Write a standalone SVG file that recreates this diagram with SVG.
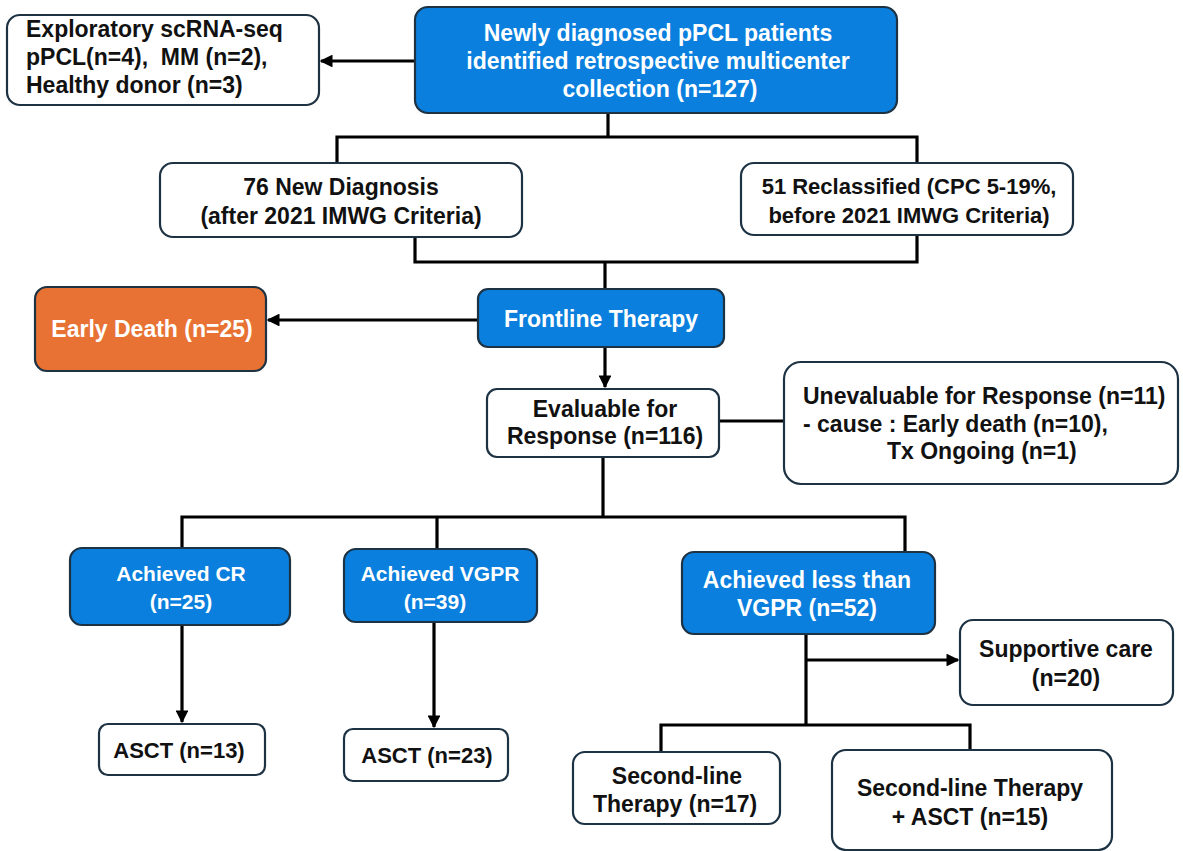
<svg xmlns="http://www.w3.org/2000/svg" width="1183" height="851" viewBox="0 0 1183 851">
<defs>
<style>
.box{stroke:#1d3243;stroke-width:2.2}
.w{fill:#ffffff}
.b{fill:#0a7fdd}
.o{fill:#e87234}
text{font-family:"Liberation Sans",Arial,sans-serif;font-weight:bold;font-size:23px;fill:#111}
.wt{fill:#ffffff}
.c{text-anchor:middle}
.s{font-size:21px}
.m{font-size:22px}
.conn{stroke:#000;stroke-width:3.2;fill:none}
</style>
<marker id="ah" viewBox="0 0 10 10" refX="9" refY="5" markerWidth="4" markerHeight="4" orient="auto" markerUnits="strokeWidth">
<path d="M0,0 L10,5 L0,10 z" fill="#000"/>
</marker>
</defs>
<rect width="1183" height="851" fill="#ffffff"/>

<g id="connectors">
<line class="conn" x1="415" y1="61" x2="321" y2="61" marker-end="url(#ah)"/>
<polyline class="conn" points="608,113 608,137"/>
<polyline class="conn" points="337,163 337,137 917,137 917,163"/>
<polyline class="conn" points="415,237 415,262 917,262 917,235"/>
<polyline class="conn" points="605,262 605,289"/>
<line class="conn" x1="478" y1="320" x2="268" y2="320" marker-end="url(#ah)"/>
<line class="conn" x1="605" y1="347" x2="605" y2="387" marker-end="url(#ah)"/>
<line class="conn" x1="720" y1="421" x2="784" y2="421"/>
<polyline class="conn" points="603,457 603,517"/>
<polyline class="conn" points="182,548 182,517 905,517 905,552"/>
<polyline class="conn" points="437,517 437,549"/>
<line class="conn" x1="182" y1="625" x2="182" y2="722" marker-end="url(#ah)"/>
<line class="conn" x1="434" y1="622" x2="434" y2="727" marker-end="url(#ah)"/>
<polyline class="conn" points="806,634 806,725"/>
<line class="conn" x1="806" y1="660" x2="958" y2="660" marker-end="url(#ah)"/>
<polyline class="conn" points="661,752 661,725 970,725 970,750"/>
</g>

<g id="n-explore">
<rect class="box w" x="7" y="15" width="312" height="90" rx="13"/>
<text x="26" y="37">Exploratory scRNA-seq</text>
<text x="26" y="65" xml:space="preserve">pPCL(n=4),  MM (n=2),</text>
<text x="26" y="93">Healthy donor (n=3)</text>
</g>

<g id="n-top">
<rect class="box b" x="415" y="7" width="482" height="106" rx="13"/>
<text class="c wt" x="658" y="41">Newly diagnosed pPCL patients</text>
<text class="c wt" x="658" y="69">identified retrospective multicenter</text>
<text class="c wt" x="660" y="97">collection (n=127)</text>
</g>

<g id="n-new">
<rect class="box w" x="160" y="163" width="362" height="74" rx="13"/>
<text class="c" x="341" y="195">76 New Diagnosis</text>
<text class="c" x="341" y="224">(after 2021 IMWG Criteria)</text>
</g>

<g id="n-recl">
<rect class="box w" x="741" y="163" width="332" height="72" rx="13"/>
<text class="c m" x="909" y="194">51 Reclassified (CPC 5-19%,</text>
<text class="c m" x="909" y="223">before 2021 IMWG Criteria)</text>
</g>

<g id="n-front">
<rect class="box b" x="478" y="289" width="246" height="58" rx="10"/>
<text class="c wt" x="601" y="327">Frontline Therapy</text>
</g>

<g id="n-death">
<rect class="box o" x="35" y="287" width="231" height="84" rx="12"/>
<text class="c wt" x="152" y="337">Early Death (n=25)</text>
</g>

<g id="n-eval">
<rect class="box w" x="487" y="389" width="232" height="68" rx="10"/>
<text class="c" x="605" y="417">Evaluable for</text>
<text class="c" x="605" y="444">Response (n=116)</text>
</g>

<g id="n-uneval">
<rect class="box w" x="784" y="362" width="394" height="122" rx="17"/>
<text x="803" y="404">Unevaluable for Response (n=11)</text>
<text x="803" y="432">- cause : Early death (n=10),</text>
<text x="887" y="459">Tx Ongoing (n=1)</text>
</g>

<g id="n-cr">
<rect class="box b" x="70" y="548" width="220" height="77" rx="12"/>
<text class="c wt s" x="181" y="581">Achieved CR</text>
<text class="c wt s" x="181" y="609">(n=25)</text>
</g>

<g id="n-vgpr">
<rect class="box b" x="344" y="549" width="193" height="73" rx="12"/>
<text class="c wt s" x="440" y="581">Achieved VGPR</text>
<text class="c wt s" x="435" y="609">(n=39)</text>
</g>

<g id="n-less">
<rect class="box b" x="682" y="552" width="253" height="82" rx="12"/>
<text class="c wt" x="807" y="588">Achieved less than</text>
<text class="c wt" x="807" y="616">VGPR (n=52)</text>
</g>

<g id="n-asct13">
<rect class="box w" x="99" y="724" width="166" height="51" rx="9"/>
<text class="c m" x="179" y="758">ASCT (n=13)</text>
</g>

<g id="n-asct23">
<rect class="box w" x="344" y="729" width="164" height="52" rx="9"/>
<text class="c m" x="427" y="763">ASCT (n=23)</text>
</g>

<g id="n-support">
<rect class="box w" x="960" y="620" width="213" height="85" rx="13"/>
<text class="c" x="1066" y="657">Supportive care</text>
<text class="c" x="1066" y="686">(n=20)</text>
</g>

<g id="n-second">
<rect class="box w" x="573" y="752" width="207" height="72" rx="12"/>
<text class="c" x="677" y="784">Second-line</text>
<text class="c" x="675" y="812">Therapy (n=17)</text>
</g>

<g id="n-second-asct">
<rect class="box w" x="832" y="750" width="280" height="100" rx="14"/>
<text class="c" x="970" y="796">Second-line Therapy</text>
<text class="c" x="970" y="825">+ ASCT (n=15)</text>
</g>
</svg>
